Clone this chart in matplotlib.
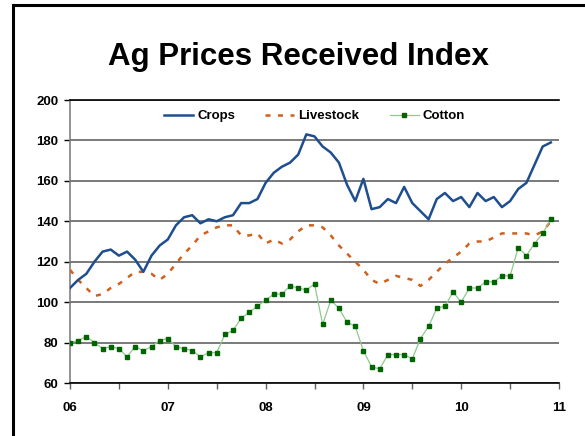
import matplotlib
matplotlib.use('Agg')
from matplotlib import pyplot as plt
from matplotlib.lines import Line2D
import numpy as np

plt.rcParams['font.family'] = ['Liberation Sans', 'DejaVu Sans']

# monthly index values, Jan 2006 - Dec 2010
crops = [107, 111, 114, 120, 125, 126, 123, 125, 121, 115,
         123, 128, 131, 138, 142, 143, 139, 141, 140, 142,
         143, 149, 149, 151, 159, 164, 167, 169, 173, 183,
         182, 177, 174, 169, 158, 150, 161, 146, 147, 151,
         149, 157, 149, 145, 141, 151, 154, 150, 152, 147,
         154, 150, 152, 147, 150, 156, 159, 168, 177, 179]
livestock = [116, 111, 107, 103, 104, 107, 109, 112, 115, 115,
             114, 111, 114, 119, 124, 128, 133, 135, 137, 138,
             138, 133, 133, 134, 129, 131, 129, 131, 135, 138,
             138, 137, 133, 128, 124, 120, 116, 111, 109, 111,
             113, 112, 111, 108, 111, 115, 119, 122, 125, 129,
             130, 130, 132, 134, 134, 134, 134, 133, 135, 140]
cotton = [80, 81, 83, 80, 77, 78, 77, 73, 78, 76,
          78, 81, 82, 78, 77, 76, 73, 75, 75, 84,
          86, 92, 95, 98, 101, 104, 104, 108, 107, 106,
          109, 89, 101, 97, 90, 88, 76, 68, 67, 74,
          74, 74, 72, 82, 88, 97, 98, 105, 100, 107,
          107, 110, 110, 113, 113, 127, 123, 129, 134, 141]
year_labels = ['06', '07', '08', '09', '10', '11']

months = np.arange(len(crops))

fig = plt.figure(figsize=(5.85, 4.36), dpi=100)
ax = fig.add_axes([70 / 585, 1 - 383 / 436, 489 / 585, 283 / 436])

ax.plot(months, crops, color='#1F4E8F', lw=1.8, label='Crops', zorder=4)
ax.plot(months, livestock, color='#D0601E', lw=1.8, ls=(0, (2, 3)), label='Livestock', zorder=3)
ax.plot(months, cotton, color='#8FC98F', lw=0.9, marker='s', ms=3,
        mfc='#006400', mec='#006400', label='Cotton', zorder=5)

ax.set_xlim(0, 60)
ax.set_ylim(60, 200)
ax.set_yticks(np.arange(60, 201, 20))
ax.set_xticks(np.arange(0, 61, 12))
ax.set_xticklabels(year_labels)
ax.set_xticks(np.arange(6, 60, 12), minor=True)
ax.grid(axis='y', color='#555555', lw=1.1)
ax.set_axisbelow(True)

ax.spines['right'].set_visible(False)
ax.spines['top'].set_color('black')
ax.spines['top'].set_linewidth(1.2)
ax.spines['bottom'].set_color('black')
ax.spines['bottom'].set_linewidth(1.2)
ax.spines['left'].set_color('#808080')
ax.spines['left'].set_linewidth(1.2)

ax.tick_params(axis='y', length=4.5, width=1, color='black', pad=4, labelsize=9.5)
ax.tick_params(axis='x', which='both', length=4, width=1, color='#606060', pad=10, labelsize=9.5)
for lab in ax.get_xticklabels() + ax.get_yticklabels():
    lab.set_fontweight('bold')

leg = ax.legend(loc='center', bbox_to_anchor=(0.5, 0.943), ncol=3, frameon=False,
                prop={'weight': 'bold', 'size': 9.5}, handlelength=2.2,
                handletextpad=0.3, columnspacing=2.3)

fig.text(0.51, 1 - 57 / 436, 'Ag Prices Received Index', ha='center', va='center',
         fontsize=22.5, fontweight='bold')

# outer chart frame: only left and top edges fall inside the image
fx, fy = 12.5 / 585, 1 - 5.5 / 436
fig.lines.append(Line2D([fx, fx], [0, fy], transform=fig.transFigure, color='black', lw=2.2))
fig.lines.append(Line2D([fx, 1], [fy, fy], transform=fig.transFigure, color='black', lw=2.2))

fig.savefig('out.png', dpi=100)
